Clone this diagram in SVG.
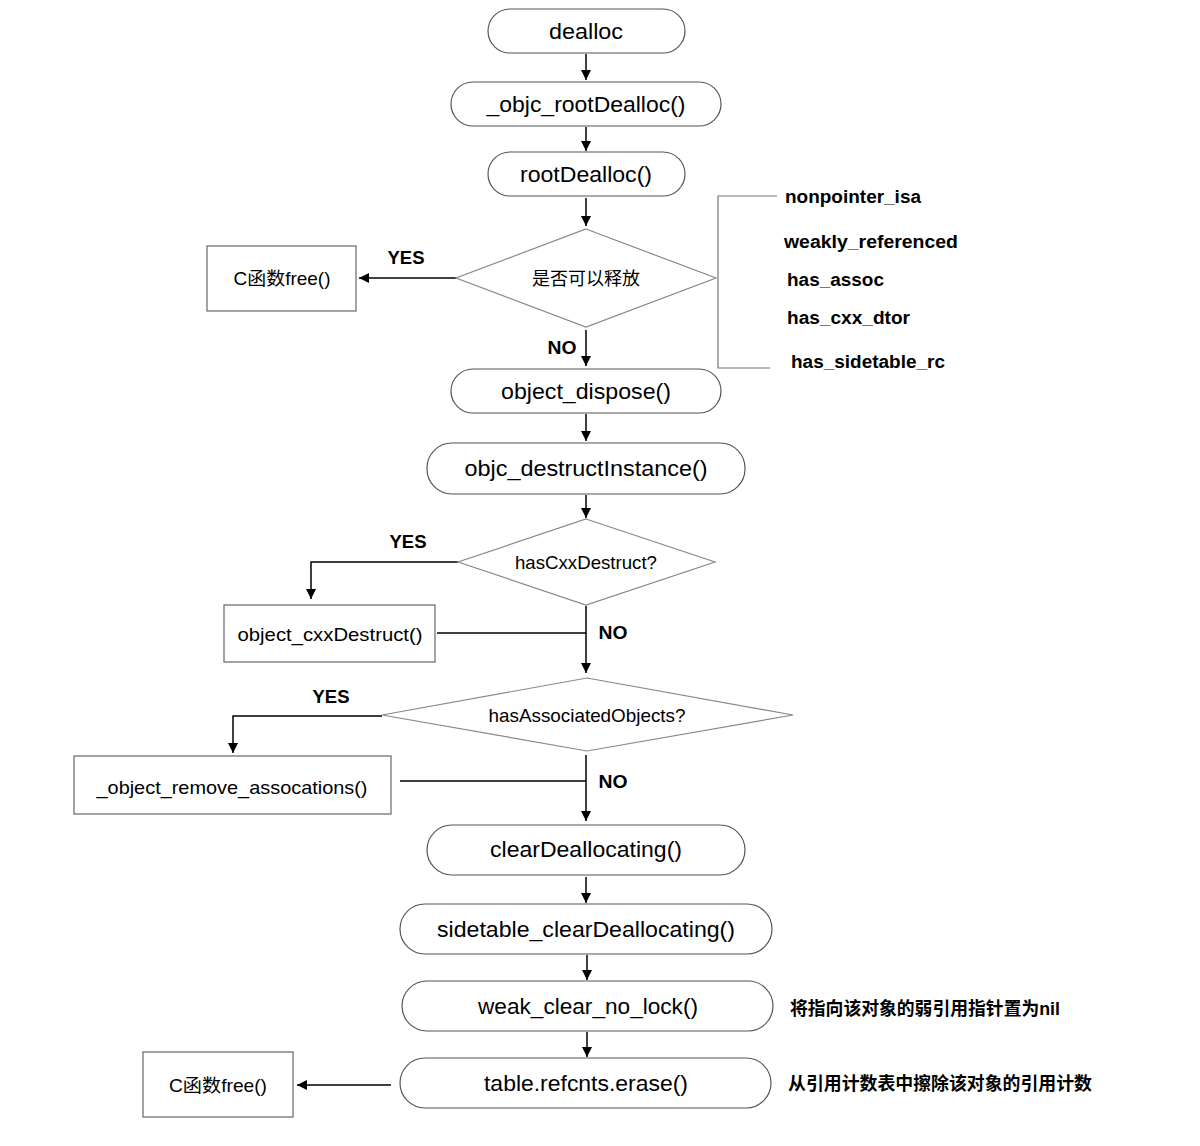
<svg xmlns="http://www.w3.org/2000/svg" width="1200" height="1146" viewBox="0 0 1200 1146">
<defs>
<marker id="arr" viewBox="0 0 10 10" refX="10" refY="5" markerWidth="10" markerHeight="10" markerUnits="userSpaceOnUse" orient="auto">
<path d="M0,0 L10,5 L0,10 z" fill="#000"/>
</marker>
<style>
.pill{fill:#fff;stroke:#555;stroke-width:1.2}
.box{fill:#fff;stroke:#666;stroke-width:1.2}
.dia{fill:#fff;stroke:#888;stroke-width:1.2}
.ln{fill:none;stroke:#000;stroke-width:1.5}
.br{fill:none;stroke:#777;stroke-width:1.2}
.t{font-family:"Liberation Sans","Noto Sans CJK SC",sans-serif;fill:#000;text-anchor:middle;dominant-baseline:central}
.big{font-size:22px}
.mid{font-size:18.5px}
.lab{font-size:18px;font-weight:bold}
.side{font-family:"Liberation Sans","Noto Sans CJK SC",sans-serif;font-size:18px;font-weight:bold;fill:#000;dominant-baseline:central}
</style>
</defs>
<rect width="1200" height="1146" fill="#fff"/>

<g id="connectors">
<line class="ln" x1="586" y1="54" x2="586" y2="80" marker-end="url(#arr)"/>
<line class="ln" x1="586" y1="127" x2="586" y2="151" marker-end="url(#arr)"/>
<line class="ln" x1="586" y1="198" x2="586" y2="226" marker-end="url(#arr)"/>
<line class="ln" x1="456" y1="278" x2="359" y2="278" marker-end="url(#arr)"/>
<line class="ln" x1="586" y1="330" x2="586" y2="366" marker-end="url(#arr)"/>
<line class="ln" x1="586" y1="414" x2="586" y2="441" marker-end="url(#arr)"/>
<line class="ln" x1="586" y1="495" x2="586" y2="518" marker-end="url(#arr)"/>
<polyline class="ln" points="458,562 311,562 311,599" marker-end="url(#arr)"/>
<line class="ln" x1="437" y1="633" x2="586" y2="633"/>
<line class="ln" x1="586" y1="606" x2="586" y2="673" marker-end="url(#arr)"/>
<polyline class="ln" points="382,716 233,716 233,753" marker-end="url(#arr)"/>
<line class="ln" x1="400" y1="781" x2="586" y2="781"/>
<line class="ln" x1="586" y1="755" x2="586" y2="821" marker-end="url(#arr)"/>
<line class="ln" x1="586" y1="877" x2="586" y2="903" marker-end="url(#arr)"/>
<line class="ln" x1="587" y1="955" x2="587" y2="980" marker-end="url(#arr)"/>
<line class="ln" x1="587" y1="1032" x2="587" y2="1057" marker-end="url(#arr)"/>
<line class="ln" x1="391" y1="1085" x2="297" y2="1085" marker-end="url(#arr)"/>
<polyline class="br" points="777,196 718,196 718,368 770,368"/>
<text class="t lab" x="406" y="258" textLength="37" lengthAdjust="spacingAndGlyphs">YES</text>
<text class="t lab" x="562" y="348" textLength="29" lengthAdjust="spacingAndGlyphs">NO</text>
<text class="t lab" x="408" y="542" textLength="37" lengthAdjust="spacingAndGlyphs">YES</text>
<text class="t lab" x="613" y="633" textLength="29" lengthAdjust="spacingAndGlyphs">NO</text>
<text class="t lab" x="331" y="697" textLength="37" lengthAdjust="spacingAndGlyphs">YES</text>
<text class="t lab" x="613" y="782" textLength="29" lengthAdjust="spacingAndGlyphs">NO</text>
</g>

<g id="n-dealloc">
<rect class="pill" x="488" y="9" width="197" height="44" rx="22"/>
<text class="t big" x="586" y="31" textLength="74" lengthAdjust="spacingAndGlyphs">dealloc</text>
</g>
<g id="n-objc-rootDealloc">
<rect class="pill" x="451" y="82" width="270" height="44" rx="22"/>
<text class="t big" x="586" y="104" textLength="199" lengthAdjust="spacingAndGlyphs">_objc_rootDealloc()</text>
</g>
<g id="n-rootDealloc">
<rect class="pill" x="488" y="152" width="197" height="44" rx="22"/>
<text class="t big" x="586" y="174" textLength="132" lengthAdjust="spacingAndGlyphs">rootDealloc()</text>
</g>
<g id="n-canfree">
<polygon class="dia" points="586,229 716,278 586,327 456,278"/>
<text class="t mid" x="586" y="278" textLength="108" lengthAdjust="spacingAndGlyphs">是否可以释放</text>
</g>
<g id="n-free1">
<rect class="box" x="207" y="246" width="149" height="65"/>
<text class="t mid" x="282" y="278" textLength="97" lengthAdjust="spacingAndGlyphs">C函数free()</text>
</g>
<g id="n-flags">
<text class="side" x="785" y="197" textLength="136" lengthAdjust="spacingAndGlyphs">nonpointer_isa</text>
<text class="side" x="784" y="242" textLength="174" lengthAdjust="spacingAndGlyphs">weakly_referenced</text>
<text class="side" x="787" y="280" textLength="97" lengthAdjust="spacingAndGlyphs">has_assoc</text>
<text class="side" x="787" y="318" textLength="123" lengthAdjust="spacingAndGlyphs">has_cxx_dtor</text>
<text class="side" x="791" y="362" textLength="154" lengthAdjust="spacingAndGlyphs">has_sidetable_rc</text>
</g>
<g id="n-object-dispose">
<rect class="pill" x="451" y="369" width="270" height="44" rx="22"/>
<text class="t big" x="586" y="391" textLength="170" lengthAdjust="spacingAndGlyphs">object_dispose()</text>
</g>
<g id="n-destructInstance">
<rect class="pill" x="427" y="443" width="318" height="51" rx="25"/>
<text class="t big" x="586" y="468" textLength="243" lengthAdjust="spacingAndGlyphs">objc_destructInstance()</text>
</g>
<g id="n-hasCxx">
<polygon class="dia" points="586,519 715,562 586,605 458,562"/>
<text class="t mid" x="586" y="562" textLength="142" lengthAdjust="spacingAndGlyphs">hasCxxDestruct?</text>
</g>
<g id="n-cxxDestruct">
<rect class="box" x="224" y="605" width="211" height="57"/>
<text class="t mid" x="330" y="634" textLength="185" lengthAdjust="spacingAndGlyphs">object_cxxDestruct()</text>
</g>
<g id="n-hasAssoc">
<polygon class="dia" points="587,678 793,715 587,751 382,715"/>
<text class="t mid" x="587" y="715" textLength="197" lengthAdjust="spacingAndGlyphs">hasAssociatedObjects?</text>
</g>
<g id="n-removeAssoc">
<rect class="box" x="74" y="756" width="317" height="58"/>
<text class="t mid" x="232" y="787" textLength="271" lengthAdjust="spacingAndGlyphs">_object_remove_assocations()</text>
</g>
<g id="n-clearDeallocating">
<rect class="pill" x="427" y="825" width="318" height="50" rx="25"/>
<text class="t big" x="586" y="849" textLength="192" lengthAdjust="spacingAndGlyphs">clearDeallocating()</text>
</g>
<g id="n-sidetable">
<rect class="pill" x="400" y="904" width="372" height="50" rx="25"/>
<text class="t big" x="586" y="929" textLength="298" lengthAdjust="spacingAndGlyphs">sidetable_clearDeallocating()</text>
</g>
<g id="n-weakclear">
<rect class="pill" x="402" y="981" width="371" height="50" rx="25"/>
<text class="t big" x="588" y="1006" textLength="220" lengthAdjust="spacingAndGlyphs">weak_clear_no_lock()</text>
<text class="side" x="790" y="1009" textLength="270" lengthAdjust="spacingAndGlyphs">将指向该对象的弱引用指针置为nil</text>
</g>
<g id="n-erase">
<rect class="pill" x="400" y="1058" width="371" height="50" rx="25"/>
<text class="t big" x="586" y="1083" textLength="204" lengthAdjust="spacingAndGlyphs">table.refcnts.erase()</text>
<text class="side" x="788" y="1084" textLength="304" lengthAdjust="spacingAndGlyphs">从引用计数表中擦除该对象的引用计数</text>
</g>
<g id="n-free2">
<rect class="box" x="143" y="1052" width="150" height="65"/>
<text class="t mid" x="218" y="1085" textLength="98" lengthAdjust="spacingAndGlyphs">C函数free()</text>
</g>
</svg>
